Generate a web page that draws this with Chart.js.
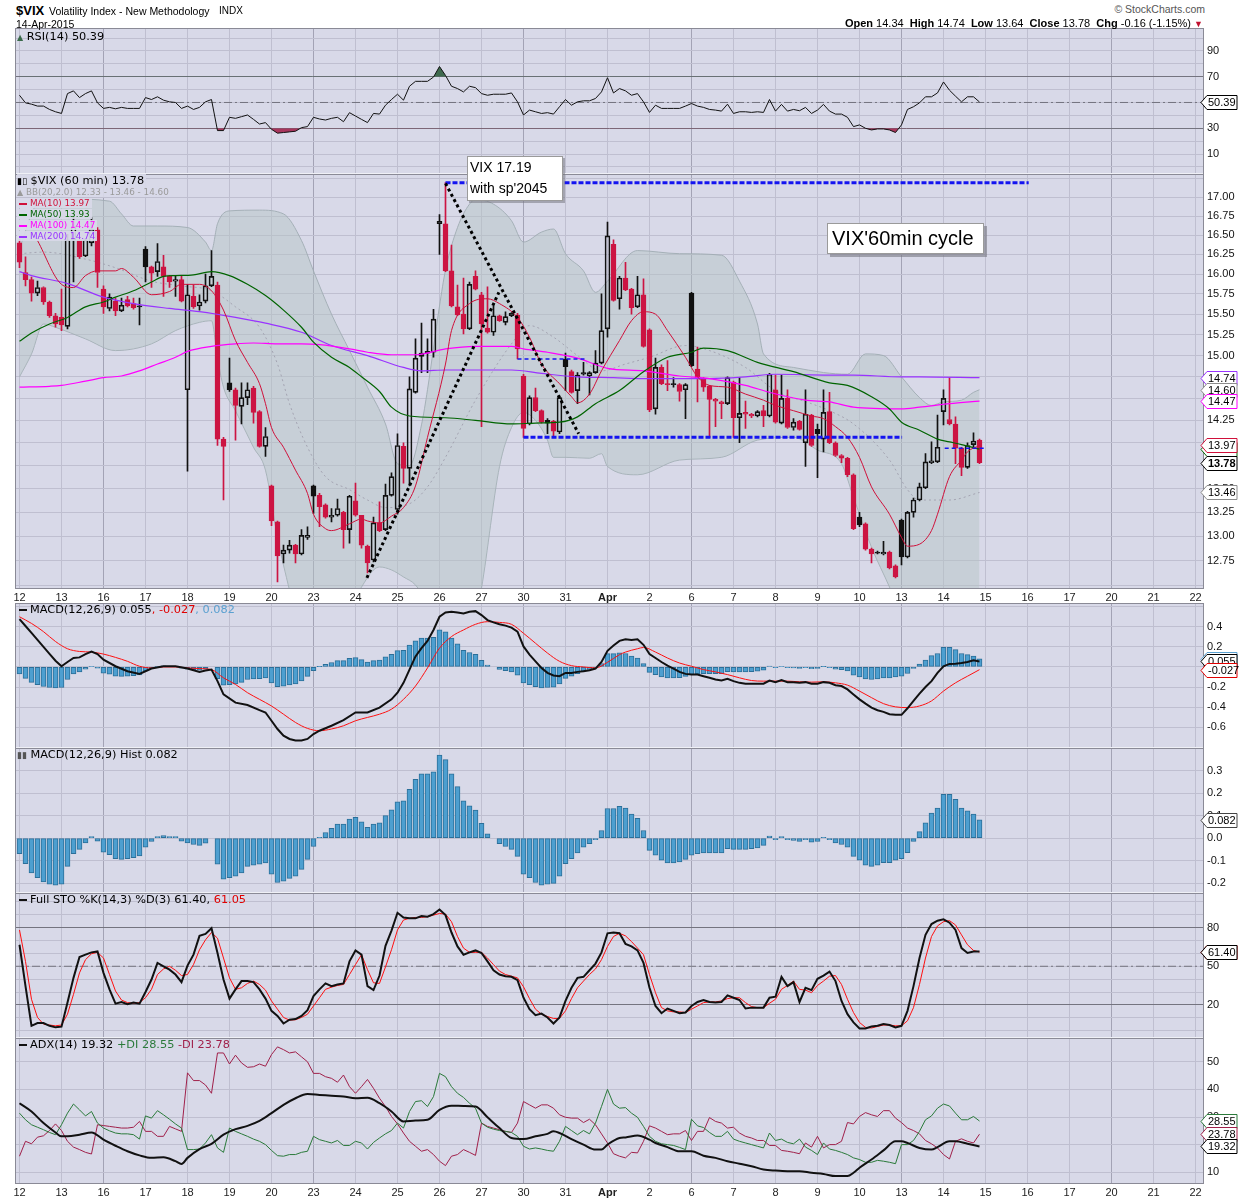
<!DOCTYPE html>
<html>
<head>
<meta charset="utf-8">
<title>$VIX 60 min</title>
<script src="https://cdn.jsdelivr.net/npm/chart.js@4.4.1/dist/chart.umd.min.js"></script>
<style>
  body { margin: 0; background: #fff; }
  #wrap { position: relative; width: 1250px; height: 1200px; overflow: hidden; font-family: "Liberation Sans", Arial, sans-serif; color: #000; }
  canvas { position: absolute; left: 0; }
  .t { position: absolute; white-space: nowrap; line-height: 1; z-index: 5; }
  .lg { position: absolute; left: 17px; z-index: 5; font-family: "DejaVu Sans", Verdana, sans-serif; font-size: 11.3px; line-height: 12px; white-space: nowrap; }
  .lg.main { font-size: 8.8px; line-height: 11px; }
  .lg.main div.first { font-size: 11.3px; }
  .lg div span.b { background: rgba(216,217,232,0.92); padding-right: 2px; }
  .dash { display: inline-block; width: 8px; height: 2px; vertical-align: middle; margin: 0 3px 0 2px; }
  .note { position: absolute; z-index: 6; background: #fff; border: 1px solid #9a9a9a; box-shadow: 2px 2px 0 rgba(120,120,130,0.55); font-family: "Liberation Sans", Arial, sans-serif; color: #000; white-space: nowrap; }
</style>
</head>
<body>
<div id="wrap">
  <div class="t" style="left:16px;top:4px;font-size:13px;font-weight:bold">$VIX</div>
  <div class="t" style="left:49px;top:6px;font-size:10.5px">Volatility Index - New Methodology</div>
  <div class="t" style="left:219px;top:6px;font-size:10px">INDX</div>
  <div class="t" style="left:16px;top:19px;font-size:10.5px">14-Apr-2015</div>
  <div class="t" style="right:45px;top:4px;font-size:10.5px;color:#555">&copy; StockCharts.com</div>
  <div class="t" style="right:47px;top:18px;font-size:11px"><b>Open</b> 14.34 &nbsp;<b>High</b> 14.74 &nbsp;<b>Low</b> 13.64 &nbsp;<b>Close</b> 13.78 &nbsp;<b>Chg</b> -0.16 (-1.15%) <span style="color:#c0102e;font-size:9px">&#9660;</span></div>

  <canvas id="cRsi"></canvas>
  <canvas id="cMain"></canvas>
  <canvas id="cMacd"></canvas>
  <canvas id="cHist"></canvas>
  <canvas id="cSto"></canvas>
  <canvas id="cAdx"></canvas>

  <div class="lg" style="top:31px"><div><span style="color:#3a6a4a;font-size:8px">&#9650;</span> RSI(14) 50.39</div></div>
  <div class="lg main" style="top:175px">
    <div class="first"><span class="b"><span style="font-size:9px">&#9646;&#9647;</span> $VIX (60 min) 13.78</span></div>
    <div style="color:#9a9a9a"><span class="b"><span style="font-size:8px">&#9650;</span> BB(20,2.0) 12.33 - 13.46 - 14.60</span></div>
    <div style="color:#d0103a"><span class="b"><span class="dash" style="background:#d0103a"></span>MA(10) 13.97</span></div>
    <div style="color:#006400"><span class="b"><span class="dash" style="background:#006400"></span>MA(50) 13.93</span></div>
    <div style="color:#ff00ff"><span class="b"><span class="dash" style="background:#ff00ff"></span>MA(100) 14.47</span></div>
    <div style="color:#9933ff"><span class="b"><span class="dash" style="background:#9933ff"></span>MA(200) 14.74</span></div>
  </div>
  <div class="lg" style="top:604px"><div><span class="dash" style="background:#111"></span>MACD(12,26,9) 0.055<span style="color:#e00000">, -0.027</span><span style="color:#5aa0d0">, 0.082</span></div></div>
  <div class="lg" style="top:749px"><div><span style="color:#555;font-size:9px">&#9646;&#9646;</span> MACD(12,26,9) Hist 0.082</div></div>
  <div class="lg" style="top:894px"><div><span class="dash" style="background:#111"></span>Full STO %K(14,3) %D(3) 61.40, <span style="color:#e00000">61.05</span></div></div>
  <div class="lg" style="top:1039px"><div><span class="dash" style="background:#111"></span>ADX(14) 19.32 <span style="color:#2a7a3a">+DI 28.55</span> <span style="color:#a0204a">-DI 23.78</span></div></div>

  <div class="note" style="left:467px;top:156px;width:92px;height:43px;font-size:14px;line-height:21px;padding-left:2px">VIX 17.19<br>with sp'2045</div>
  <div class="note" style="left:827px;top:223px;width:151px;height:29px;font-size:20px;line-height:29px;padding-left:4px;box-shadow:3px 3px 0 rgba(120,120,130,0.6)">VIX'60min cycle</div>
</div>

<script>
// calendar: one tick per trading day, 7 hourly bars a day
const dayLabels = ['12','13','16','17','18','19','20','23','24','25','26','27','30','31','Apr','2','6','7','8','9','10','13','14','15','16','17','20','21','22'];
const mondays = [2, 7, 12, 16, 21, 26];
const BARS_PER_DAY = 7;

// hourly candles, Mar 12 .. Apr 14 (7 per row = one day)
const opens = [
  16.40,16.02,15.93,15.76,15.83,15.65,15.48,
  15.46,15.35,16.44,16.44,16.23,16.40,16.57,
  15.81,15.57,15.66,15.54,15.68,15.63,15.60,
  16.32,16.09,16.03,16.09,15.97,15.91,15.93,
  14.60,15.72,15.60,15.66,15.85,15.86,14.04,
  14.68,14.60,14.41,14.51,14.62,14.35,13.96,
  13.53,13.15,12.82,12.86,12.91,12.82,12.99,
  13.53,13.43,13.33,13.20,13.22,13.25,13.07,
  13.37,13.22,12.90,12.76,13.14,13.07,13.43,
  13.28,13.96,13.72,14.57,14.99,15.05,15.04,
  16.65,16.65,16.04,15.59,15.50,15.32,15.97,
  15.74,15.33,15.28,15.48,15.40,15.48,15.49,
  14.76,14.21,14.51,14.36,14.22,14.24,14.12,
  14.96,14.81,14.59,14.80,14.76,14.80,14.91,
  15.32,16.38,15.69,15.95,15.81,15.59,15.74,
  15.31,14.38,14.86,14.67,14.67,14.66,14.60,
  15.76,14.84,14.73,14.64,14.49,14.46,14.44,
  14.69,14.28,14.34,14.32,14.30,14.36,14.30,
  14.60,14.22,14.50,14.17,14.24,14.00,14.31,
  14.15,14.04,14.35,14.00,13.86,13.83,13.65,
  13.20,13.13,12.87,12.84,12.82,12.84,12.70,
  13.17,12.79,13.25,13.38,13.51,13.78,13.79,
  14.35,14.26,14.21,13.94,13.73,13.98,14.03
];
const highs = [
  16.45,16.22,15.96,15.91,15.84,15.66,15.51,
  15.81,16.51,16.78,16.47,16.46,16.73,16.60,
  15.85,15.75,15.70,15.70,15.72,15.70,15.70,
  16.35,16.10,16.39,16.24,15.98,15.97,15.97,
  15.87,15.86,15.74,16.00,16.30,15.90,14.06,
  14.97,14.62,14.68,14.68,14.64,14.36,14.17,
  13.54,13.16,12.91,12.96,12.92,13.07,13.10,
  13.54,13.45,13.34,13.29,13.39,13.26,13.43,
  13.56,13.22,12.91,13.20,13.36,13.55,13.67,
  14.10,14.00,14.75,15.20,15.39,15.20,15.56,
  16.77,17.20,16.37,15.86,15.95,15.90,16.04,
  15.77,15.84,15.60,15.49,15.53,15.52,15.51,
  14.78,14.53,14.62,14.37,14.27,14.25,14.53,
  15.03,14.83,14.80,14.92,14.81,15.06,15.75,
  16.67,16.44,15.97,16.15,15.82,15.97,15.94,
  15.32,14.97,14.89,14.94,14.74,14.67,14.67,
  15.77,15.10,14.74,14.65,14.50,14.47,14.75,
  14.70,14.74,14.47,14.33,14.36,14.42,14.79,
  14.77,14.77,14.60,14.27,14.25,14.60,14.32,
  14.21,14.60,14.57,14.01,13.87,13.84,13.66,
  13.25,13.14,12.88,12.85,12.95,12.85,12.71,
  13.18,13.26,13.40,13.56,13.88,14.01,14.31,
  14.60,14.74,14.29,13.95,14.00,14.11,14.04
];
const lows = [
  16.08,15.85,15.66,15.73,15.62,15.46,15.34,
  15.30,15.32,15.90,16.20,16.22,16.36,15.83,
  15.51,15.54,15.48,15.53,15.59,15.56,15.37,
  15.90,15.83,15.97,15.72,15.83,15.72,15.65,
  13.69,15.57,15.55,15.64,15.84,13.97,13.38,
  14.58,14.03,14.21,14.43,14.22,13.95,13.85,
  13.11,12.54,12.73,12.83,12.73,12.81,12.97,
  13.24,13.10,13.19,13.15,13.21,12.88,12.93,
  13.21,12.88,12.63,12.74,13.05,13.06,13.42,
  13.23,13.56,13.53,14.56,14.80,14.80,14.98,
  16.25,16.03,15.59,15.48,15.26,15.31,15.80,
  14.18,15.27,15.24,15.41,15.37,15.47,14.96,
  14.06,14.20,14.35,14.22,14.10,14.07,14.10,
  14.59,14.56,14.44,14.77,14.54,14.79,14.90,
  15.22,15.66,15.56,15.79,15.50,15.58,15.10,
  14.35,14.32,14.66,14.59,14.63,14.47,14.27,
  14.87,14.46,14.58,14.06,14.18,14.27,14.43,
  14.06,14.00,14.16,14.28,14.29,14.18,14.29,
  14.22,14.21,14.16,14.14,14.14,13.74,13.96,
  13.62,13.90,13.99,13.85,13.78,13.63,13.07,
  13.10,12.86,12.73,12.82,12.81,12.67,12.58,
  12.71,12.78,13.20,13.37,13.50,13.77,13.78,
  14.20,14.20,13.77,13.64,13.72,13.95,13.77
];
const closes = [
  16.15,15.93,15.76,15.83,15.65,15.48,15.38,
  15.37,16.44,16.62,16.22,16.44,16.58,16.02,
  15.59,15.71,15.54,15.61,15.60,15.58,15.59,
  16.09,16.01,16.16,15.97,15.90,15.93,15.66,
  15.74,15.59,15.65,15.85,15.97,14.04,13.96,
  14.60,14.42,14.51,14.60,14.34,13.96,14.07,
  13.16,12.80,12.86,12.91,12.82,13.01,13.01,
  13.42,13.31,13.20,13.22,13.29,13.07,13.42,
  13.22,12.91,12.73,13.14,13.06,13.43,13.63,
  13.97,13.72,14.61,14.97,15.03,15.03,15.44,
  16.68,16.04,15.60,15.49,15.32,15.87,15.81,
  15.38,15.28,15.48,15.42,15.47,15.51,15.08,
  14.16,14.51,14.36,14.23,14.25,14.13,14.51,
  14.87,14.57,14.77,14.78,14.80,14.91,15.30,
  16.49,15.67,15.95,15.80,15.58,15.74,15.11,
  14.37,14.86,14.67,14.66,14.66,14.58,14.66,
  14.88,14.73,14.63,14.49,14.47,14.44,14.74,
  14.28,14.33,14.32,14.30,14.35,14.30,14.78,
  14.23,14.50,14.17,14.23,14.15,14.32,13.97,
  14.10,14.34,14.00,13.86,13.83,13.65,13.08,
  13.12,12.87,12.82,12.83,12.84,12.68,12.59,
  12.79,13.25,13.38,13.52,13.79,13.80,13.95,
  14.50,14.21,13.94,13.73,13.97,14.02,13.78
];

// overlays as [bar, value]
const ma10 = [[3,16.43],[7,15.87],[9,15.83],[11,15.98],[13,16.04],[16,16.04],[17,16.07],[19,15.96],[22,15.74],[25,15.78],[27,15.87],[30,15.87],[32,15.79],[34,15.55],[36,15.18],[38,14.92],[40,14.67],[41,14.44],[42,14.17],[44,13.95],[46,13.70],[48,13.45],[49,13.23],[51,13.08],[52,13.06],[55,13.13],[57,13.18],[58,13.16],[60,13.14],[62,13.21],[64,13.30],[66,13.53],[68,14.06],[71,14.90],[72,15.30],[75,15.63],[78,15.69],[80,15.63],[83,15.46],[85,15.22],[87,14.90],[90,14.67],[92,14.52],[93,14.45],[95,14.55],[97,14.82],[100,15.18],[102,15.42],[104,15.53],[106,15.50],[108,15.30],[111,14.98],[113,14.75],[115,14.65],[118,14.63],[121,14.55],[124,14.48],[126,14.42],[129,14.36],[132,14.30],[134,14.27],[136,14.18],[138,14.06],[140,13.84],[142,13.52],[145,13.23],[147,12.99],[148,12.90],[150,12.92],[152,13.06],[153,13.23],[155,13.63],[157,13.81],[158,13.90],[160,13.97]];
const ma50 = [[0,15.17],[2,15.27],[5,15.38],[8,15.46],[11,15.59],[14,15.65],[16,15.71],[19,15.79],[22,15.90],[24,15.97],[26,15.98],[29,15.99],[32,16.03],[35,15.98],[38,15.87],[41,15.73],[44,15.55],[47,15.34],[49,15.16],[52,14.98],[55,14.86],[57,14.75],[60,14.58],[62,14.40],[65,14.30],[71,14.28],[76,14.25],[82,14.21],[86,14.22],[90,14.23],[93,14.29],[96,14.44],[100,14.59],[104,14.81],[108,14.98],[112,15.04],[114,15.09],[118,15.06],[123,14.92],[129,14.81],[135,14.68],[138,14.65],[142,14.52],[145,14.38],[147,14.23],[150,14.14],[153,14.04],[155,14.01],[157,13.98],[160,13.93]];
const ma100 = [[0,14.63],[5,14.64],[7,14.65],[11,14.70],[14,14.74],[17,14.76],[20,14.82],[23,14.90],[26,14.98],[28,15.05],[32,15.11],[36,15.14],[39,15.15],[43,15.14],[47,15.14],[50,15.13],[55,15.08],[58,15.04],[62,15.01],[66,15.01],[71,15.08],[76,15.11],[82,15.11],[84,15.08],[88,15.04],[93,14.97],[98,14.85],[104,14.82],[110,14.76],[115,14.73],[121,14.65],[125,14.57],[131,14.48],[135,14.46],[139,14.40],[147,14.38],[150,14.40],[155,14.44],[160,14.47]];
const ma200 = [[0,16.03],[2,15.98],[8,15.88],[14,15.71],[19,15.63],[25,15.57],[30,15.53],[36,15.46],[41,15.39],[47,15.28],[52,15.12],[58,15.00],[64,14.86],[67,14.82],[71,14.83],[76,14.83],[82,14.83],[87,14.79],[93,14.75],[99,14.74],[104,14.73],[110,14.73],[115,14.73],[121,14.75],[126,14.78],[135,14.77],[139,14.77],[147,14.75],[150,14.75],[160,14.74]];
const bbUpper = [[0,16.33],[3,16.91],[8,16.98],[15,16.95],[17,16.78],[19,16.62],[23,16.62],[28,16.60],[31,16.41],[32,16.30],[33,16.65],[35,16.82],[40,16.83],[44,16.78],[47,16.43],[49,16.04],[52,15.50],[55,15.06],[58,14.63],[61,14.21],[63,13.77],[65,13.75],[67,14.20],[68,14.60],[70,15.60],[71,16.05],[73,16.60],[75,16.91],[76,16.97],[79,16.91],[82,16.69],[84,16.41],[87,16.54],[89,16.58],[91,16.26],[94,16.04],[96,15.77],[98,15.91],[103,16.30],[110,16.26],[117,16.24],[120,15.91],[123,15.38],[124,15.02],[129,14.86],[134,14.80],[138,14.78],[141,15.02],[144,15.00],[147,14.75],[150,14.51],[152,14.42],[154,14.46],[157,14.48],[159,14.57],[160,14.60]];
const bbLower = [[0,14.75],[2,15.02],[4,15.38],[6,15.34],[11,15.20],[16,15.06],[22,15.14],[26,15.30],[30,15.40],[32,15.42],[33,14.98],[34,14.63],[36,14.36],[39,13.95],[41,13.70],[43,12.99],[45,12.46],[47,12.00],[50,11.90],[56,12.40],[60,12.69],[62,12.66],[64,12.59],[66,12.51],[68,12.33],[72,11.85],[76,12.20],[77,12.48],[80,13.74],[82,14.17],[84,14.34],[86,14.25],[88,14.03],[89,13.84],[91,13.84],[95,13.83],[97,13.88],[98,13.74],[103,13.65],[110,13.81],[117,13.84],[123,14.03],[129,14.06],[133,13.92],[137,13.77],[139,13.41],[142,12.89],[145,12.49],[148,12.07],[152,11.94],[156,12.07],[160,12.33]];
const bbMid = [[0,16.26],[4,16.28],[11,16.19],[16,16.08],[22,15.91],[27,15.85],[32,15.79],[36,15.59],[40,15.34],[43,14.90],[45,14.44],[48,13.95],[51,13.63],[55,13.49],[58,13.38],[61,13.30],[65,13.34],[68,13.52],[71,13.84],[76,14.48],[82,15.14],[85,15.36],[89,15.22],[93,15.00],[97,14.82],[101,14.90],[105,14.98],[111,15.12],[115,15.06],[121,14.86],[126,14.59],[132,14.44],[135,14.36],[139,14.21],[145,13.81],[148,13.49],[150,13.38],[155,13.38],[160,13.46]];

// hand-drawn annotations as [bar, price] end points
const topLine = [[71,17.20],[168.2,17.20]];
const supportLine = [[84,14.06],[147.1,14.06]];
const shortLine1 = [[83,14.96],[94.6,14.96]];
const shortLine2 = [[154.2,13.94],[161.1,13.94]];
const trendDown = [[71,17.19],[93.2,14.10]];
const trendUp = [[57.9,12.58],[79.9,15.77]];

// indicators
const rsi = [
  55.6,49.7,48.7,47.2,47.2,44.6,42.8,41.5,56.9,59.0,53.8,56.9,59.0,49.7,45.4,46.2,45.1,46.2,45.4,45.4,
  45.4,53.8,52.3,54.4,51.8,50.5,50.0,45.4,47.2,44.6,46.2,50.5,52.3,28.2,28.2,38.5,37.7,39.0,40.3,36.9,
  33.3,34.4,29.2,26.2,26.7,27.2,27.7,30.5,31.3,38.5,37.2,36.4,37.7,38.5,35.1,42.1,39.5,36.9,34.4,41.5,
  41.0,47.9,52.3,56.4,51.8,62.6,66.4,66.4,66.4,69.7,77.9,71.0,62.6,60.8,58.2,62.6,61.5,56.9,55.6,56.4,
  56.4,56.4,57.4,50.5,40.3,44.1,42.8,41.5,42.1,41.0,46.7,52.3,47.9,50.5,51.3,51.3,53.1,58.2,69.2,57.4,
  60.8,59.0,55.6,56.9,50.5,42.3,47.9,45.4,45.4,45.4,45.4,47.2,49.2,47.2,46.2,44.6,44.1,43.3,48.7,41.5,
  42.8,42.8,42.3,42.8,42.3,52.3,43.3,48.5,43.3,44.6,43.6,46.2,41.5,44.1,48.5,43.3,41.0,41.0,38.5,31.3,
  32.6,30.0,28.7,29.5,29.5,28.7,26.7,32.6,44.6,46.7,49.7,54.4,54.4,57.4,65.9,59.5,54.9,50.5,54.4,54.4,
  50.39
];
const macdLine = [[0,0.476],[1,0.407],[2,0.338],[3,0.269],[4,0.200],[5,0.131],[6,0.062],[7,0.007],[8,0.049],[9,0.089],[10,0.095],[11,0.128],[12,0.154],[13,0.128],[14,0.072],[16,0.007],[18,-0.043],[20,-0.069],[22,-0.016],[24,0.007],[26,0.007],[28,-0.016],[30,-0.049],[31,-0.036],[32,-0.026],[33,-0.141],[34,-0.273],[36,-0.355],[38,-0.378],[40,-0.430],[41,-0.453],[42,-0.535],[43,-0.617],[44,-0.683],[45,-0.716],[46,-0.732],[47,-0.732],[48,-0.716],[49,-0.667],[50,-0.634],[52,-0.585],[54,-0.529],[56,-0.453],[58,-0.453],[60,-0.404],[62,-0.322],[63,-0.256],[64,-0.158],[65,-0.026],[66,0.105],[67,0.187],[68,0.259],[69,0.368],[70,0.499],[71,0.542],[72,0.548],[73,0.542],[74,0.532],[75,0.548],[76,0.555],[77,0.516],[78,0.466],[79,0.443],[80,0.424],[81,0.411],[82,0.391],[83,0.351],[84,0.204],[85,0.122],[86,0.056],[87,-0.010],[88,-0.059],[89,-0.085],[90,-0.092],[91,-0.059],[92,-0.059],[93,-0.049],[94,-0.043],[95,-0.033],[96,-0.016],[97,0.049],[98,0.161],[99,0.213],[100,0.259],[101,0.276],[102,0.269],[103,0.276],[104,0.220],[105,0.128],[106,0.089],[107,0.049],[108,0.013],[109,-0.016],[110,-0.049],[111,-0.069],[112,-0.076],[113,-0.076],[114,-0.092],[115,-0.108],[116,-0.125],[117,-0.135],[118,-0.118],[119,-0.141],[120,-0.158],[121,-0.167],[122,-0.167],[123,-0.167],[124,-0.167],[125,-0.135],[126,-0.151],[127,-0.131],[128,-0.151],[129,-0.151],[130,-0.158],[131,-0.151],[132,-0.167],[133,-0.167],[134,-0.151],[135,-0.158],[136,-0.181],[137,-0.190],[138,-0.223],[139,-0.273],[140,-0.322],[141,-0.365],[142,-0.404],[143,-0.430],[144,-0.447],[145,-0.470],[146,-0.476],[147,-0.476],[148,-0.411],[149,-0.338],[150,-0.266],[151,-0.200],[152,-0.141],[153,-0.059],[154,0.007],[155,0.030],[156,0.033],[157,0.039],[158,0.049],[159,0.066],[160,0.055]];
const macdSignal = [[0,0.499],[2,0.433],[4,0.351],[6,0.253],[8,0.181],[10,0.154],[12,0.148],[14,0.128],[16,0.095],[18,0.056],[20,0.007],[22,-0.010],[24,0],[26,0],[28,-0.010],[30,-0.016],[32,-0.026],[34,-0.108],[36,-0.174],[38,-0.256],[40,-0.322],[42,-0.388],[44,-0.470],[46,-0.552],[48,-0.611],[50,-0.634],[52,-0.617],[54,-0.585],[56,-0.535],[58,-0.502],[60,-0.470],[62,-0.420],[64,-0.322],[66,-0.190],[68,-0.010],[70,0.187],[72,0.302],[74,0.368],[76,0.424],[78,0.450],[80,0.443],[82,0.424],[84,0.335],[86,0.236],[88,0.138],[90,0.056],[92,0.013],[94,0],[96,-0.010],[98,0.046],[100,0.122],[101,0.148],[103,0.181],[104,0.194],[106,0.148],[108,0.089],[110,0.039],[112,0.007],[114,-0.026],[116,-0.049],[118,-0.076],[120,-0.108],[122,-0.135],[124,-0.141],[126,-0.141],[128,-0.141],[130,-0.148],[132,-0.151],[134,-0.148],[136,-0.158],[138,-0.181],[140,-0.240],[142,-0.305],[144,-0.365],[146,-0.397],[148,-0.404],[150,-0.388],[152,-0.338],[154,-0.240],[156,-0.158],[158,-0.092],[160,-0.027]];
const macdHist = [
  -0.069,-0.113,-0.154,-0.176,-0.194,-0.204,-0.209,-0.204,-0.125,-0.069,-0.050,-0.021,0.007,-0.013,-0.062,-0.073,-0.091,-0.094,-0.091,-0.087,
  -0.079,-0.040,-0.015,0.007,0.012,0.007,0.007,-0.013,-0.021,-0.028,-0.032,-0.022,0,-0.116,-0.182,-0.176,-0.169,-0.154,-0.125,-0.120,
  -0.116,-0.110,-0.160,-0.197,-0.191,-0.179,-0.169,-0.139,-0.094,-0.037,0.004,0.025,0.044,0.063,0.063,0.085,0.093,0.073,0.048,0.063,
  0.068,0.100,0.126,0.162,0.166,0.217,0.261,0.286,0.286,0.295,0.369,0.349,0.286,0.229,0.166,0.144,0.125,0.066,0.019,0,
  -0.025,-0.037,-0.050,-0.081,-0.160,-0.176,-0.197,-0.209,-0.204,-0.201,-0.169,-0.113,-0.091,-0.066,-0.040,-0.025,-0.007,0.034,0.132,0.132,
  0.141,0.134,0.107,0.088,0.034,-0.054,-0.076,-0.098,-0.110,-0.110,-0.106,-0.094,-0.076,-0.069,-0.066,-0.066,-0.066,-0.066,-0.047,-0.050,
  -0.050,-0.050,-0.047,-0.043,-0.032,0.009,-0.007,0.007,-0.007,-0.010,-0.015,-0.007,-0.018,-0.015,0.004,-0.007,-0.021,-0.028,-0.040,-0.081,
  -0.098,-0.120,-0.125,-0.120,-0.109,-0.109,-0.098,-0.091,-0.065,-0.015,0.029,0.068,0.112,0.134,0.195,0.195,0.173,0.134,0.122,0.107,
  0.082
];
const stoK = [
  66.7,34.6,3.8,5.9,5.9,3.8,2.6,3.1,21.8,41.0,57.2,59.0,60.8,61.5,44.9,32.1,21.0,22.3,20.5,21.8,
  21.0,30.0,39.7,52.6,50.0,47.4,43.6,37.7,50.5,59.0,73.6,75.1,79.5,60.3,39.7,24.9,32.1,38.5,38.5,37.7,
  32.1,24.9,15.4,11.5,5.6,8.5,9.0,11.5,15.9,26.9,32.1,36.7,34.6,35.9,36.7,53.8,62.3,59.0,34.6,31.5,
  42.8,65.9,77.7,91.5,87.9,87.2,87.2,89.0,88.5,90.5,94.1,89.7,76.2,65.4,59.0,60.8,62.3,60.3,53.8,46.9,
  43.6,42.3,41.8,39.2,25.6,16.7,12.1,13.3,10.3,5.6,10.3,23.1,33.3,41.0,41.8,46.9,52.1,60.8,75.6,76.2,
  75.6,67.4,65.4,62.3,52.6,33.3,19.2,13.6,17.2,15.4,13.6,14.1,19.2,22.3,23.8,22.3,21.8,22.3,27.4,25.6,
  23.8,17.2,17.9,17.9,17.9,25.6,26.4,41.8,34.6,37.7,22.3,33.3,31.5,40.3,42.8,45.9,38.5,23.1,12.8,6.4,
  1.8,1.8,3.3,3.8,5.1,4.4,2.6,3.8,15.4,34.6,56.4,74.4,82.8,85.4,86.4,83.8,78.2,64.1,60.3,61.5,
  61.4
];
const stoD = [
  78.2,53.8,24.4,10.3,5.1,4.4,3.8,4.4,12.8,28.2,44.9,55.1,59.7,60.8,56.4,43.6,30.8,23.8,21.8,21.3,
  21.8,25.6,32.1,43.6,47.9,50.0,46.9,42.8,43.6,51.3,62.8,70.5,76.2,71.8,56.4,41.0,32.1,33.3,36.7,38.5,
  35.9,31.5,23.1,16.7,10.3,8.2,8.5,10.3,12.8,19.2,25.6,32.1,33.8,35.1,35.9,43.6,51.3,59.0,47.4,37.2,
  36.7,49.5,62.8,78.2,85.9,87.2,87.9,87.9,88.5,89.7,91.0,90.5,84.6,73.1,64.1,60.8,60.8,60.8,56.4,51.3,
  46.2,43.6,42.3,41.0,34.1,24.9,16.7,12.8,11.0,9.5,9.5,15.4,24.9,33.3,38.5,43.6,47.9,55.1,65.4,73.1,
  75.6,73.6,69.2,64.1,59.0,43.6,29.5,17.9,15.4,14.6,14.6,14.1,16.7,19.2,21.8,22.3,22.3,23.1,24.9,25.6,
  25.6,21.8,18.7,17.9,17.9,21.3,24.4,32.1,35.1,38.5,32.1,31.5,29.5,35.1,38.5,42.3,42.8,35.9,24.4,14.1,
  6.4,2.6,2.1,3.3,4.4,4.4,3.8,3.8,7.7,17.9,35.9,56.4,73.1,81.3,84.6,85.4,82.1,74.4,66.7,62.3,
  61.05
];
const adx = [[0,35.0],[2,32.0],[4,27.8],[6,24.4],[7,23.0],[8,23.0],[10,23.6],[12,24.4],[14,21.8],[16,19.6],[18,17.6],[20,16.1],[22,15.2],[24,15.4],[26,14.0],[27,13.0],[28,15.2],[30,18.4],[32,20.3],[34,23.6],[36,25.6],[38,26.8],[40,28.6],[42,31.4],[44,34.4],[46,36.8],[48,38.3],[50,38.0],[52,37.7],[54,37.4],[56,36.8],[58,37.0],[60,35.0],[62,32.0],[64,28.4],[66,28.7],[68,29.0],[70,32.6],[72,34.1],[74,34.0],[76,33.8],[78,29.9],[80,26.0],[82,22.4],[84,22.0],[86,23.0],[88,23.9],[89,24.8],[90,24.2],[92,22.0],[94,20.0],[96,18.2],[97,18.2],[98,20.0],[100,22.4],[101,22.6],[103,23.3],[105,21.8],[106,20.6],[108,19.1],[110,17.6],[112,17.6],[114,16.0],[116,15.2],[118,14.0],[120,13.1],[122,12.2],[124,11.0],[126,10.6],[128,10.4],[130,10.4],[132,9.8],[134,9.4],[136,8.6],[138,8.6],[139,9.8],[140,11.6],[142,14.6],[144,17.9],[146,21.2],[147,21.2],[148,20.6],[150,18.8],[152,18.2],[153,19.1],[155,21.2],[156,21.2],[158,20.3],[160,19.32]];
const plusDI = [
  31.4,29.0,27.2,26.3,25.4,24.4,23.6,27.2,31.4,34.7,32.6,30.4,32.0,27.8,26.0,25.0,24.2,23.9,23.9,23.6,
  22.0,30.4,29.6,32.3,30.8,29.2,27.5,26.0,18.2,18.2,18.4,20.6,23.6,18.8,17.2,26.0,24.8,23.9,23.0,22.0,
  21.2,20.0,17.9,16.0,15.8,16.4,16.4,17.2,17.6,23.0,21.8,21.2,20.6,21.5,19.7,19.7,21.2,20.6,18.4,20.8,
  22.4,23.9,25.1,27.8,26.0,32.0,35.6,35.9,33.8,37.4,45.8,44.6,41.0,38.6,37.1,35.0,33.2,27.8,26.3,25.6,
  25.1,24.8,24.4,23.0,19.4,18.4,18.8,18.4,17.9,17.6,21.2,26.6,25.1,23.6,25.1,23.9,27.8,33.8,40.0,34.7,
  33.2,33.4,31.4,29.9,26.6,23.0,21.2,20.3,20.0,19.7,19.0,18.2,29.2,26.8,26.2,24.4,23.0,23.0,24.8,22.0,
  21.2,20.6,20.0,19.4,18.8,24.2,21.5,22.0,20.8,20.3,22.0,19.1,17.9,16.4,20.6,18.4,17.9,17.2,16.4,15.2,
  14.6,13.6,13.6,14.3,14.0,13.6,13.1,20.0,20.0,21.5,24.8,29.0,30.4,33.2,34.7,34.0,31.4,29.0,29.0,30.2,
  28.55
];
const minusDI = [
  15.8,21.2,20.3,22.7,23.2,25.1,27.5,25.1,21.2,19.1,18.2,17.2,16.6,27.2,26.9,26.6,26.3,26.0,26.0,26.3,
  28.4,24.8,24.8,23.0,23.0,26.6,25.7,24.8,46.0,43.2,43.2,41.6,38.6,53.2,53.2,49.2,52.4,49.6,48.0,48.2,
  49.2,48.4,52.6,55.4,54.4,53.2,53.6,51.8,50.0,45.8,45.8,44.6,44.0,42.6,45.2,41.0,38.6,41.0,43.6,40.4,
  36.8,33.8,30.2,27.5,24.2,21.2,19.4,17.6,18.2,16.4,14.0,12.4,15.8,16.4,18.2,17.2,16.1,27.8,26.6,26.0,
  25.4,24.8,24.4,27.8,35.6,34.4,33.2,34.4,34.4,33.2,30.8,29.9,29.6,29.6,28.0,29.2,27.2,23.9,20.6,16.7,
  15.8,15.2,17.2,17.0,21.2,26.8,26.0,24.8,23.6,23.9,23.9,25.1,21.5,24.8,24.8,29.8,28.4,27.8,26.0,26.3,
  24.2,23.0,22.4,21.5,21.5,19.7,19.7,17.9,17.6,17.2,16.7,20.6,19.1,23.0,18.8,20.0,20.0,21.2,28.0,27.5,
  30.2,31.6,30.8,30.2,32.3,32.3,29.6,28.0,26.0,25.1,23.9,21.5,20.3,18.8,16.4,14.8,21.2,22.1,21.2,20.6,
  23.78
];

// axis tick values
const rsiTicks = [0,10,20,30,40,50,60,70,80,90,100];
const priceTicks = [12.5,12.75,13,13.25,13.5,13.75,14,14.25,14.5,14.75,15,15.25,15.5,15.75,16,16.25,16.5,16.75,17,17.25];
const macdTicks = [-0.6,-0.4,-0.2,0,0.2,0.4,0.6];
const histTicks = [-0.2,-0.1,0,0.1,0.2,0.3];
const stoTicks = [0,10,20,30,40,50,60,70,80,90,100];
const adxTicks = [10,20,30,40,50];

const RED = '#cc1442', BLACK = '#111111', BG = 'rgb(216,217,232)';
const GRID = '#bfbfd0', GRID_MON = '#a3a3b5', REF = '#74747f';
const X_MIN = -0.5833, X_MAX = 197.25;

const seq = arr => arr.map((v, i) => ({ x: i, y: v }));
const pts = pairs => pairs.map(p => ({ x: p[0], y: p[1] }));

function drawTag(ctx, x, y, text, color, bold) {
  ctx.beginPath();
  ctx.moveTo(x, y);
  ctx.lineTo(x + 6, y - 7);
  ctx.lineTo(x + 36, y - 7);
  ctx.lineTo(x + 36, y + 7);
  ctx.lineTo(x + 6, y + 7);
  ctx.closePath();
  ctx.fillStyle = '#fff';
  ctx.fill();
  ctx.strokeStyle = color;
  ctx.lineWidth = 1;
  ctx.stroke();
  ctx.fillStyle = '#000';
  ctx.font = (bold ? 'bold ' : '') + '11px "Liberation Sans", Arial';
  ctx.textBaseline = 'middle';
  ctx.textAlign = 'left';
  ctx.fillText(text, x + 7, y + 0.5);
}

Chart.register({
  id: 'panel',
  defaults: { tags: [] },
  beforeDraw(chart) {
    const { ctx, chartArea: a } = chart;
    ctx.save();
    ctx.fillStyle = BG;
    ctx.fillRect(a.left, a.top, a.width, a.height);
    ctx.restore();
  },
  afterDraw(chart, args, opts) {
    const { ctx, chartArea: a } = chart;
    ctx.save();
    ctx.strokeStyle = '#8a8a96';
    ctx.lineWidth = 1;
    ctx.strokeRect(Math.round(a.left) - 0.5, Math.round(a.top) - 0.5, Math.round(a.width) + 1, Math.round(a.height) + 1);
    (opts.tags || []).forEach(t => {
      drawTag(ctx, a.right - 2, Math.round(chart.scales.y.getPixelForValue(t.v)) + 0.5, t.text, t.color, t.bold);
    });
    ctx.restore();
  }
});

function xAxis(showLabels) {
  return {
    type: 'linear', min: X_MIN, max: X_MAX, offset: false,
    afterBuildTicks: s => { s.ticks = dayLabels.map((d, k) => ({ value: k * BARS_PER_DAY })); },
    afterFit: s => { s.height = showLabels ? 16 : 0; },
    border: { display: false },
    grid: { offset: false, drawTicks: false, color: c => mondays.includes(c.index) ? GRID_MON : GRID },
    ticks: {
      display: showLabels, autoSkip: false, maxRotation: 0, padding: 3, color: '#222',
      font: c => ({ family: '"Liberation Sans", Arial', size: 11, weight: dayLabels[c.index] === 'Apr' ? 'bold' : 'normal' }),
      callback: (v, i) => dayLabels[i]
    }
  };
}

function yAxis(o) {
  return {
    type: o.type || 'linear', position: 'right', min: o.min, max: o.max,
    afterBuildTicks: s => { s.ticks = o.ticks.map(v => ({ value: v })); },
    afterFit: s => { s.width = 47; },
    border: { display: false },
    grid: { drawTicks: false, color: o.gridColor || GRID },
    ticks: { padding: 4, color: '#111', autoSkip: false, font: { family: '"Liberation Sans", Arial', size: 11 }, callback: o.label }
  };
}

function makePanel(id, plotTop, plotH, labels, data, y, tags) {
  const cv = document.getElementById(id);
  cv.width = 1250;
  cv.height = plotH + 10 + (labels ? 16 : 10);
  cv.style.top = (plotTop - 10) + 'px';
  return new Chart(cv, {
    type: 'line',
    data: { datasets: data },
    options: {
      responsive: false, animation: false, events: [],
      layout: { padding: { left: 16, right: 0, top: 10, bottom: labels ? 0 : 10 } },
      elements: { point: { radius: 0 }, line: { borderWidth: 1 } },
      scales: { x: xAxis(labels), y: y },
      plugins: { legend: { display: false }, tooltip: { enabled: false }, panel: { tags: tags } }
    }
  });
}

function line(pairsOrPts, color, width, order, extra) {
  return Object.assign({ data: pairsOrPts, borderColor: color, borderWidth: width, pointRadius: 0, fill: false, order: order }, extra || {});
}

const refLine = v => line([{ x: X_MIN, y: v }, { x: X_MAX, y: v }], REF, 1, 9, { borderDash: [8, 3, 2, 3] });

// ---- RSI ----
makePanel('cRsi', 28, 146, false, [
  line(seq(rsi), '#111', 1, 0, { fill: { target: { value: 70 }, above: 'rgba(55,100,70,0.95)', below: 'rgba(0,0,0,0)' } }),
  line(seq(rsi), 'rgba(0,0,0,0)', 0, 1, { fill: { target: { value: 30 }, above: 'rgba(0,0,0,0)', below: 'rgba(165,45,85,0.95)' } }),
  refLine(50)
], yAxis({ min: -5, max: 107.3, ticks: rsiTicks,
  label: v => [90, 70, 30, 10].includes(v) ? String(v) : '',
  gridColor: c => (c.tick && (c.tick.value === 70 || c.tick.value === 30)) ? REF : GRID }),
  [{ v: 50.39, text: '50.39', color: '#000' }]);

// ---- price ----
const candleCol = closes.map((c, i) => c < (i ? closes[i - 1] : opens[i]) ? RED : BLACK);
const bodyFill = closes.map((c, i) => c < opens[i] ? candleCol[i] : 'rgba(0,0,0,0)');
const bar = (d, thick, order, extra) => Object.assign({ type: 'bar', data: d, grouped: false, barThickness: thick, order: order, borderSkipped: false }, extra);

makePanel('cMain', 174, 414, true, [
  line(pts(trendDown), '#000', 3, 0, { borderDash: [3, 3] }),
  line(pts(trendUp), '#000', 3, 0, { borderDash: [3, 3] }),
  line(pts(topLine), '#1414f0', 3, 1, { borderDash: [5, 2] }),
  line(pts(supportLine), '#1414f0', 3, 1, { borderDash: [5, 2] }),
  line(pts(shortLine1), '#1414f0', 1.5, 1, { borderDash: [4, 3] }),
  line(pts(shortLine2), '#1414f0', 1.5, 1, { borderDash: [4, 3] }),
  line(pts(ma10), '#d0103a', 1, 2, { cubicInterpolationMode: 'monotone' }),
  line(pts(ma50), '#006400', 1.2, 3, { cubicInterpolationMode: 'monotone' }),
  line(pts(ma100), '#ff00ff', 1.2, 4, { cubicInterpolationMode: 'monotone' }),
  line(pts(ma200), '#9933ff', 1.2, 5, { cubicInterpolationMode: 'monotone' }),
  bar(opens.map((o, i) => ({ x: i, y: [o, closes[i]] })), 5, 6, { backgroundColor: bodyFill, borderColor: candleCol, borderWidth: 1, minBarLength: 1 }),
  bar(opens.map((o, i) => ({ x: i, y: [Math.max(o, closes[i]), highs[i]] })), 1, 7, { backgroundColor: candleCol, borderWidth: 0 }),
  bar(opens.map((o, i) => ({ x: i, y: [lows[i], Math.min(o, closes[i])] })), 1, 7, { backgroundColor: candleCol, borderWidth: 0 }),
  line(pts(bbMid), '#a4a4b2', 1, 8, { borderDash: [2, 3], cubicInterpolationMode: 'monotone' }),
  line(pts(bbUpper), 'rgba(160,172,178,0.9)', 1, 10, { cubicInterpolationMode: 'monotone', fill: '+1', backgroundColor: 'rgba(180,195,195,0.45)' }),
  line(pts(bbLower), 'rgba(160,172,178,0.9)', 1, 10, { cubicInterpolationMode: 'monotone' })
], yAxis({ type: 'logarithmic', min: 12.48, max: 17.31, ticks: priceTicks,
  label: v => (v >= 12.7 && v <= 17.05) ? v.toFixed(2) : '' }),
  [
    { v: 14.74, text: '14.74', color: '#9933ff' },
    { v: 14.60, text: '14.60', color: '#8c8c8c' },
    { v: 14.47, text: '14.47', color: '#ff00ff' },
    { v: 13.93, text: '13.93', color: '#006400' },
    { v: 13.97, text: '13.97', color: '#d0103a' },
    { v: 13.78, text: '13.78', color: '#000', bold: true },
    { v: 13.46, text: '13.46', color: '#8c8c8c' }
  ]);

// ---- MACD ----
const histBars = order => ({ type: 'bar', data: seq(macdHist), grouped: false, barThickness: 5, order: order,
  backgroundColor: '#4d9fd0', borderColor: '#2b6f99', borderWidth: 1, borderSkipped: false });

makePanel('cMacd', 603, 145, false, [
  line(pts(macdLine), '#111', 2, 0),
  line(pts(macdSignal), '#ff1010', 1, 1, { cubicInterpolationMode: 'monotone' }),
  histBars(2)
], yAxis({ min: -0.80, max: 0.63, ticks: macdTicks,
  label: v => (Math.abs(v) < 1e-9 || v > 0.5) ? '' : v.toFixed(1) }),
  [
    { v: 0.082, text: '0.082', color: '#5aa0d0' },
    { v: 0.055, text: '0.055', color: '#000' },
    { v: -0.027, text: '-0.027', color: '#e00000' }
  ]);

// ---- MACD histogram ----
makePanel('cHist', 748, 145, false, [histBars(0)],
  yAxis({ min: -0.241, max: 0.398, ticks: histTicks, label: v => v.toFixed(1) }),
  [{ v: 0.082, text: '0.082', color: '#444' }]);

// ---- Full stochastics ----
makePanel('cSto', 893, 145, false, [
  line(seq(stoK), '#111', 2, 0),
  line(seq(stoD), '#ff1010', 1, 1),
  refLine(50)
], yAxis({ min: -5.2, max: 106.4, ticks: stoTicks,
  label: v => [80, 50, 20].includes(v) ? String(v) : '',
  gridColor: c => (c.tick && (c.tick.value === 80 || c.tick.value === 20)) ? REF : GRID }),
  [
    { v: 61.05, text: '61.05', color: '#e00000' },
    { v: 61.40, text: '61.40', color: '#000' }
  ]);

// ---- ADX ----
makePanel('cAdx', 1038, 145, true, [
  line(pts(adx), '#111', 2, 0, { cubicInterpolationMode: 'monotone' }),
  line(seq(plusDI), '#2a7a3a', 1, 1),
  line(seq(minusDI), '#a0204a', 1, 2)
], yAxis({ min: 6.1, max: 58.4, ticks: adxTicks, label: v => String(v) }),
  [
    { v: 28.55, text: '28.55', color: '#2a7a3a' },
    { v: 23.78, text: '23.78', color: '#a0204a' },
    { v: 19.32, text: '19.32', color: '#000' }
  ]);
</script>
</body>
</html>
